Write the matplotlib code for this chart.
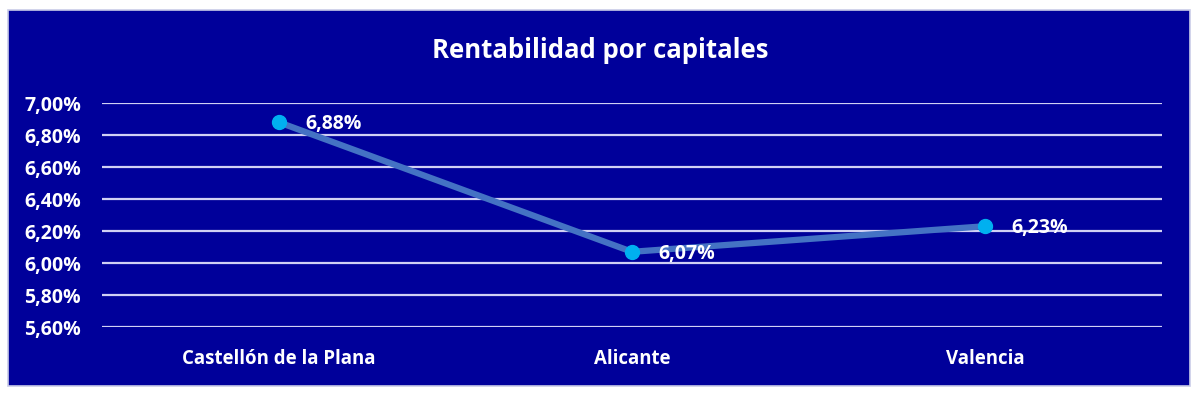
import matplotlib
matplotlib.use("Agg")
import matplotlib.pyplot as plt
from matplotlib.patches import Rectangle
from matplotlib.ticker import FuncFormatter

categories = ["Castellón de la Plana", "Alicante", "Valencia"]
values = [6.88, 6.07, 6.23]
yticks = [5.60, 5.80, 6.00, 6.20, 6.40, 6.60, 6.80, 7.00]
title = "Rentabilidad por capitales"

plt.rcParams['font.family'] = ['Open Sans', 'DejaVu Sans']
BG = "#00009A"

fig = plt.figure(figsize=(12, 3.95), dpi=100)
fig.patch.set_facecolor("white")
fig.add_artist(Rectangle((8/1200, 1 - 386/395), 1182/1200, 376/395,
                         transform=fig.transFigure, facecolor=BG,
                         edgecolor="#C9CCE8", linewidth=1.2, zorder=0))

ax = fig.add_axes([102/1200, (395-327)/395, 1060/1200, 224/395])
ax.set_facecolor("none")
x = list(range(len(categories)))
ax.plot(x, values, color="#4472C4", linewidth=4.5, solid_capstyle="round", zorder=3)
ax.plot(x, values, linestyle="none", marker="o", markersize=10,
        markerfacecolor="#00B0F0", markeredgecolor="#00B0F0", zorder=4)
for xi, v in zip(x, values):
    ax.annotate(f"{v:.2f}%".replace(".", ","), (xi, v), xytext=(19, -1.5),
                textcoords="offset points", ha="left", va="center",
                color="white", fontsize=14, fontweight="bold", zorder=5)

ax.set_xlim(-0.5, len(categories) - 0.5)
ax.set_ylim(yticks[0], yticks[-1])
ax.set_yticks(yticks)
ax.yaxis.set_major_formatter(FuncFormatter(lambda v, p: f"{v:.2f}%".replace(".", ",")))
ax.set_xticks(x)
ax.set_xticklabels(categories)
ax.grid(axis="y", color="#D0D0F4", linewidth=1.6)
ax.set_axisbelow(True)
for s in ax.spines.values():
    s.set_visible(False)
ax.tick_params(axis="y", length=0, colors="white", labelsize=14, pad=15)
ax.tick_params(axis="x", length=0, colors="white", labelsize=13.4, pad=16)
for lbl in ax.get_xticklabels() + ax.get_yticklabels():
    lbl.set_fontweight("bold")

fig.text(0.5, 1 - 51/395, title, ha="center", va="center", color="white",
         fontsize=18.5, fontweight="bold")

fig.savefig("out.png", dpi=100, facecolor=fig.get_facecolor())
